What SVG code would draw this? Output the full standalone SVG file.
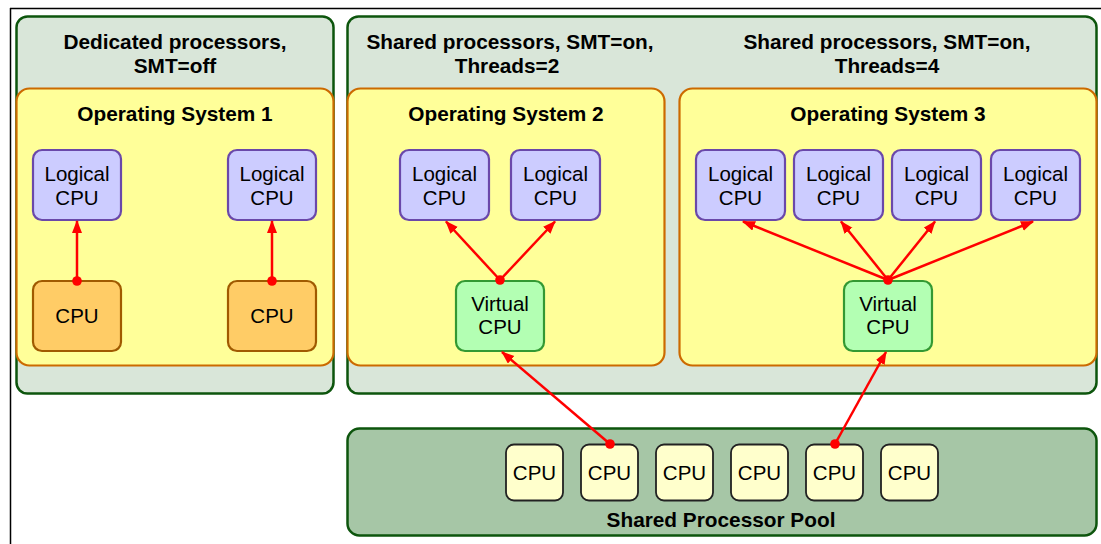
<svg xmlns="http://www.w3.org/2000/svg" width="1101" height="544" viewBox="0 0 1101 544">
  <defs>
    <marker id="arrow" markerUnits="userSpaceOnUse" markerWidth="13" markerHeight="11" refX="12" refY="5" orient="auto">
      <path d="M0,0 L13,5 L0,10 z" fill="#ff0000"/>
    </marker>
    <style>
      text { font-family: "Liberation Sans", Arial, sans-serif; fill: #000; text-anchor: middle; }
      .title { font-size: 20.8px; font-weight: bold; }
      .lbl { font-size: 20.5px; }
      .panel { fill: #d9e6d9; stroke: #0d550d; stroke-width: 2.5; }
      .os { fill: #ffff99; stroke: #cc6a00; stroke-width: 2.2; }
      .logical { fill: #ccccff; stroke: #6a48aa; stroke-width: 2.2; }
      .cpu { fill: #ffcc66; stroke: #a05a00; stroke-width: 2.2; }
      .vcpu { fill: #b3ffb3; stroke: #339933; stroke-width: 2.2; }
      .pool { fill: #a6c6a6; stroke: #0d550d; stroke-width: 2.5; }
      .pcpu { fill: #ffffcc; stroke: #222; stroke-width: 1.8; }
      .link { stroke: #ff0000; stroke-width: 2.5; fill: none; marker-end: url(#arrow); }
      .dot { fill: #ff0000; }
    </style>
  </defs>

  <rect width="1101" height="544" fill="#ffffff"/>
  <!-- frame -->
  <line x1="10" y1="8.5" x2="1101" y2="8.5" stroke="#000" stroke-width="1.5"/>
  <line x1="10.5" y1="8" x2="10.5" y2="544" stroke="#000" stroke-width="1.5"/>

  <!-- dedicated partition -->
  <g id="panel-dedicated">
    <rect class="panel" x="16.5" y="16.5" width="317" height="377" rx="11"/>
    <text class="title" x="175" y="49">Dedicated processors,</text>
    <text class="title" x="175" y="73">SMT=off</text>
  </g>
  <g id="os1">
    <rect class="os" x="16.5" y="88.5" width="317" height="277" rx="13"/>
    <text class="title" x="175" y="121">Operating System 1</text>
  </g>
  <g id="os1-lcpu1">
    <rect class="logical" x="33" y="150" width="88" height="70" rx="9"/>
    <text class="lbl" x="77" y="181">Logical</text>
    <text class="lbl" x="77" y="205">CPU</text>
  </g>
  <g id="os1-lcpu2">
    <rect class="logical" x="228" y="150" width="88" height="70" rx="9"/>
    <text class="lbl" x="272" y="181">Logical</text>
    <text class="lbl" x="272" y="205">CPU</text>
  </g>
  <g id="os1-cpu1">
    <rect class="cpu" x="33" y="281" width="88" height="70" rx="9"/>
    <text class="lbl" x="77" y="323">CPU</text>
  </g>
  <g id="os1-cpu2">
    <rect class="cpu" x="228" y="281" width="88" height="70" rx="9"/>
    <text class="lbl" x="272" y="323">CPU</text>
  </g>

  <!-- shared partitions -->
  <g id="panel-shared">
    <rect class="panel" x="347.5" y="16.5" width="749" height="377" rx="11"/>
    <text class="title" x="510" y="49">Shared processors, SMT=on,</text>
    <text class="title" x="507" y="73">Threads=2</text>
    <text class="title" x="887" y="49">Shared processors, SMT=on,</text>
    <text class="title" x="887" y="73">Threads=4</text>
  </g>
  <g id="os2">
    <rect class="os" x="347.5" y="88.5" width="317" height="277" rx="13"/>
    <text class="title" x="506" y="121">Operating System 2</text>
  </g>
  <g id="os2-lcpu1">
    <rect class="logical" x="400" y="150" width="89" height="70" rx="9"/>
    <text class="lbl" x="444.5" y="181">Logical</text>
    <text class="lbl" x="444.5" y="205">CPU</text>
  </g>
  <g id="os2-lcpu2">
    <rect class="logical" x="511" y="150" width="89" height="70" rx="9"/>
    <text class="lbl" x="555.5" y="181">Logical</text>
    <text class="lbl" x="555.5" y="205">CPU</text>
  </g>
  <g id="os2-vcpu">
    <rect class="vcpu" x="456" y="281" width="88" height="70" rx="9"/>
    <text class="lbl" x="500" y="311">Virtual</text>
    <text class="lbl" x="500" y="334">CPU</text>
  </g>

  <g id="os3">
    <rect class="os" x="679.5" y="88.5" width="417" height="277" rx="13"/>
    <text class="title" x="888" y="121">Operating System 3</text>
  </g>
  <g id="os3-lcpu1">
    <rect class="logical" x="696" y="150" width="89" height="70" rx="9"/>
    <text class="lbl" x="740.5" y="181">Logical</text>
    <text class="lbl" x="740.5" y="205">CPU</text>
  </g>
  <g id="os3-lcpu2">
    <rect class="logical" x="794" y="150" width="89" height="70" rx="9"/>
    <text class="lbl" x="838.5" y="181">Logical</text>
    <text class="lbl" x="838.5" y="205">CPU</text>
  </g>
  <g id="os3-lcpu3">
    <rect class="logical" x="892" y="150" width="89" height="70" rx="9"/>
    <text class="lbl" x="936.5" y="181">Logical</text>
    <text class="lbl" x="936.5" y="205">CPU</text>
  </g>
  <g id="os3-lcpu4">
    <rect class="logical" x="991" y="150" width="89" height="70" rx="9"/>
    <text class="lbl" x="1035.5" y="181">Logical</text>
    <text class="lbl" x="1035.5" y="205">CPU</text>
  </g>
  <g id="os3-vcpu">
    <rect class="vcpu" x="844" y="281" width="88" height="70" rx="9"/>
    <text class="lbl" x="888" y="311">Virtual</text>
    <text class="lbl" x="888" y="334">CPU</text>
  </g>

  <!-- shared processor pool -->
  <g id="pool">
    <rect class="pool" x="347.5" y="428.5" width="749" height="107" rx="12"/>
    <text class="title" x="721" y="527">Shared Processor Pool</text>
  </g>
  <g id="pool-cpu1"><rect class="pcpu" x="506" y="444.5" width="57" height="56" rx="8"/><text class="lbl" x="534.5" y="480">CPU</text></g>
  <g id="pool-cpu2"><rect class="pcpu" x="581" y="444.5" width="57" height="56" rx="8"/><text class="lbl" x="609.5" y="480">CPU</text></g>
  <g id="pool-cpu3"><rect class="pcpu" x="656" y="444.5" width="57" height="56" rx="8"/><text class="lbl" x="684.5" y="480">CPU</text></g>
  <g id="pool-cpu4"><rect class="pcpu" x="731" y="444.5" width="57" height="56" rx="8"/><text class="lbl" x="759.5" y="480">CPU</text></g>
  <g id="pool-cpu5"><rect class="pcpu" x="806" y="444.5" width="57" height="56" rx="8"/><text class="lbl" x="834.5" y="480">CPU</text></g>
  <g id="pool-cpu6"><rect class="pcpu" x="881" y="444.5" width="57" height="56" rx="8"/><text class="lbl" x="909.5" y="480">CPU</text></g>

  <!-- mappings -->
  <g id="connectors">
    <line class="link" x1="77" y1="281" x2="77" y2="221"/>
    <line class="link" x1="272" y1="281" x2="272" y2="221"/>
    <line class="link" x1="500" y1="280" x2="446" y2="221.5"/>
    <line class="link" x1="500" y1="280" x2="555" y2="221.5"/>
    <line class="link" x1="888" y1="280" x2="743" y2="221.5"/>
    <line class="link" x1="888" y1="280" x2="841" y2="221.5"/>
    <line class="link" x1="888" y1="280" x2="935" y2="221.5"/>
    <line class="link" x1="888" y1="280" x2="1033" y2="221.5"/>
    <line class="link" x1="610" y1="444" x2="502" y2="352"/>
    <line class="link" x1="835" y1="444" x2="886" y2="352"/>
    <circle class="dot" cx="77" cy="281" r="4.8"/>
    <circle class="dot" cx="272" cy="281" r="4.8"/>
    <circle class="dot" cx="500" cy="280" r="4.8"/>
    <circle class="dot" cx="888" cy="280" r="4.8"/>
    <circle class="dot" cx="610" cy="444" r="4.8"/>
    <circle class="dot" cx="835" cy="444" r="4.8"/>
  </g>
</svg>
